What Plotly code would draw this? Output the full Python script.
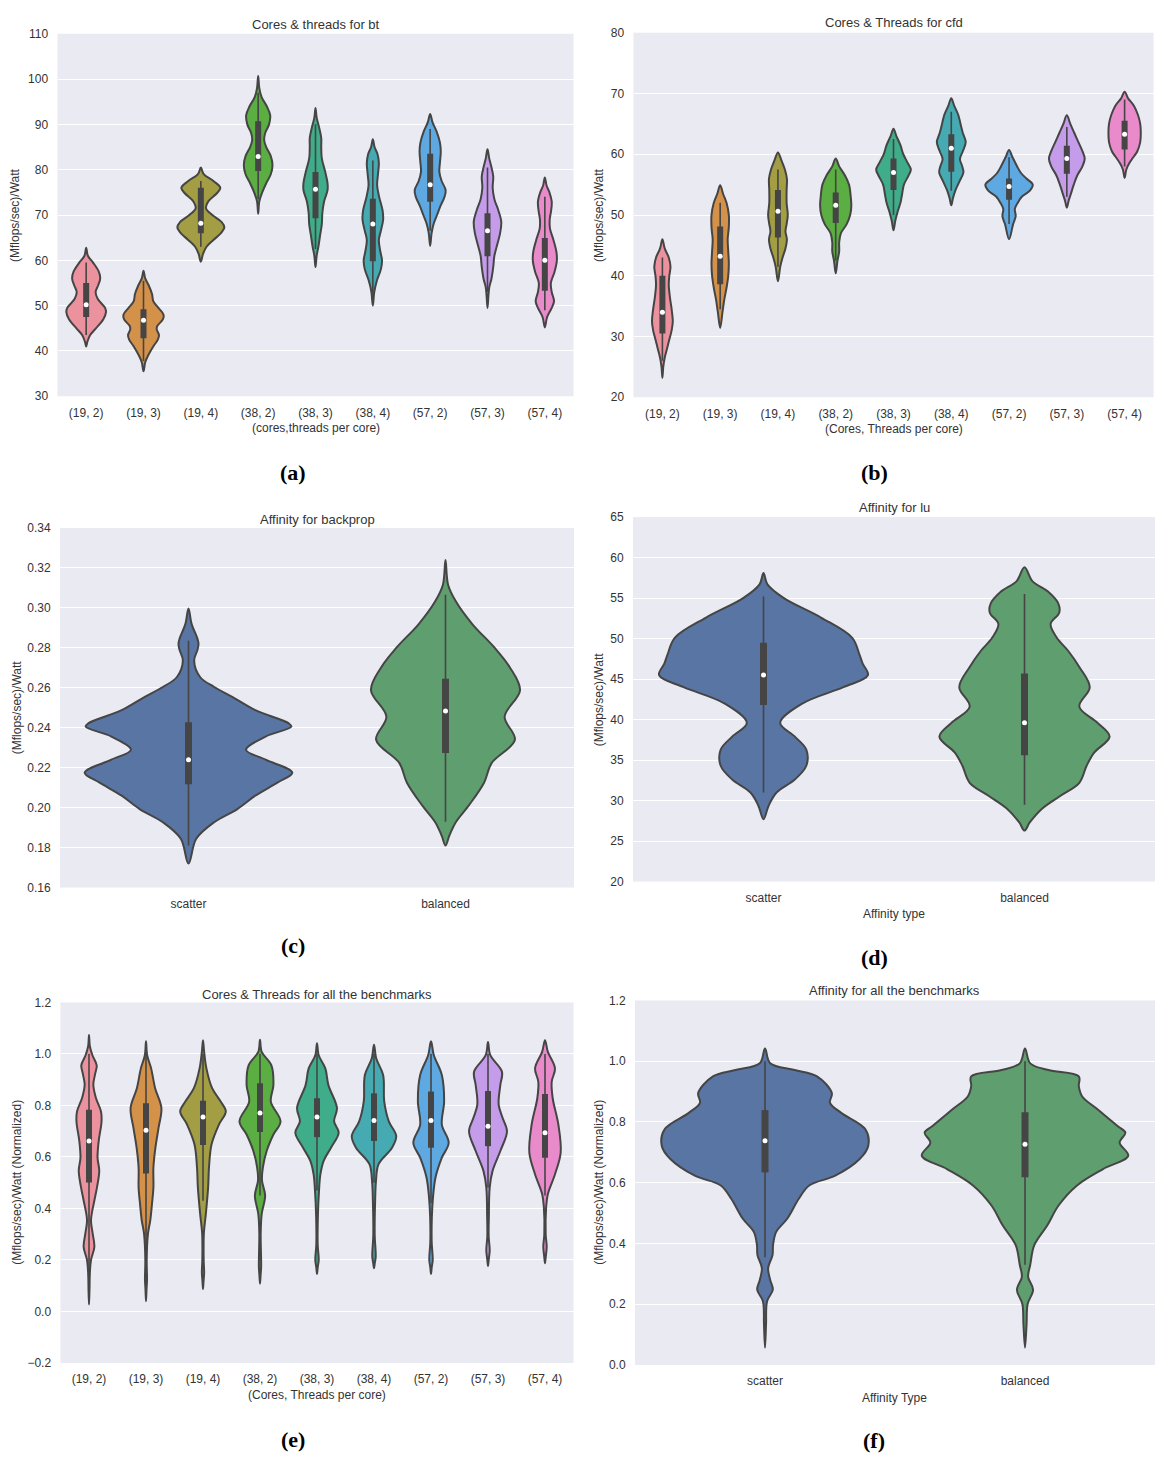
import plotly.graph_objects as go

W, H = 1161, 1472

# ---------------- data ----------------
core_categories = ["(19, 2)", "(19, 3)", "(19, 4)", "(38, 2)", "(38, 3)",
                   "(38, 4)", "(57, 2)", "(57, 3)", "(57, 4)"]
affinity_categories = ["scatter", "balanced"]

# (a) bt : density profiles (value, half-width in category units), box stats
bt_y = [
    [62.8, 61.0, 59.5, 57.5, 56.0, 54.5, 53.0, 51.5, 49.5, 48.5, 47.0, 45.0, 43.5, 42.0, 41.0],
    [57.7, 56.0, 54.5, 52.5, 51.0, 49.5, 48.0, 47.0, 45.5, 44.8, 43.5, 42.5, 41.0, 39.0, 37.5, 35.5],
    [80.5, 79.0, 77.5, 76.0, 74.8, 73.0, 71.5, 70.0, 68.5, 67.3, 66.0, 64.5, 63.0, 61.5, 59.7],
    [100.7, 98.0, 96.0, 94.0, 92.0, 90.0, 88.0, 86.5, 85.0, 83.0, 81.0, 79.0, 77.0, 75.0, 73.0, 70.3],
    [93.6, 91.5, 89.5, 87.0, 85.0, 82.5, 79.5, 77.0, 75.5, 73.0, 70.5, 68.0, 65.5, 63.0, 61.0, 58.5],
    [86.7, 85.0, 83.5, 81.5, 79.0, 76.5, 74.0, 71.0, 69.0, 66.5, 64.5, 62.0, 60.0, 58.0, 55.5, 53.0, 50.0],
    [92.3, 90.5, 88.5, 86.0, 84.0, 81.5, 79.5, 77.5, 75.5, 74.0, 72.0, 70.0, 68.0, 66.0, 63.2],
    [84.5, 82.5, 80.5, 78.5, 76.0, 73.5, 71.0, 68.5, 66.0, 63.5, 61.0, 58.5, 56.0, 54.0, 52.0, 49.5],
    [78.3, 76.5, 75.0, 73.0, 71.0, 69.0, 67.0, 64.5, 62.0, 60.0, 57.5, 55.0, 53.0, 51.0, 49.5, 47.5, 45.2],
]
bt_w = [
    [0, 0.03, 0.12, 0.22, 0.245, 0.21, 0.165, 0.2, 0.33, 0.345, 0.30, 0.17, 0.07, 0.02, 0],
    [0, 0.03, 0.09, 0.15, 0.17, 0.26, 0.35, 0.34, 0.24, 0.23, 0.27, 0.25, 0.17, 0.08, 0.03, 0],
    [0, 0.05, 0.22, 0.34, 0.28, 0.13, 0.09, 0.20, 0.36, 0.41, 0.35, 0.22, 0.10, 0.04, 0],
    [0, 0.02, 0.06, 0.15, 0.21, 0.19, 0.12, 0.105, 0.14, 0.22, 0.25, 0.22, 0.14, 0.07, 0.02, 0],
    [0, 0.02, 0.06, 0.10, 0.10, 0.11, 0.17, 0.21, 0.21, 0.15, 0.12, 0.11, 0.08, 0.05, 0.02, 0],
    [0, 0.03, 0.08, 0.105, 0.09, 0.075, 0.11, 0.17, 0.18, 0.14, 0.105, 0.13, 0.16, 0.14, 0.07, 0.025, 0],
    [0, 0.04, 0.11, 0.17, 0.185, 0.17, 0.16, 0.2, 0.27, 0.25, 0.18, 0.12, 0.06, 0.025, 0],
    [0, 0.03, 0.07, 0.10, 0.09, 0.12, 0.19, 0.24, 0.22, 0.17, 0.12, 0.10, 0.07, 0.03, 0.015, 0],
    [0, 0.03, 0.08, 0.12, 0.11, 0.085, 0.09, 0.15, 0.2, 0.21, 0.17, 0.105, 0.12, 0.16, 0.12, 0.04, 0],
]
bt_q1 = [47.5, 42.8, 66.0, 79.7, 69.3, 59.8, 72.9, 60.9, 53.3]
bt_med = [50.2, 46.8, 68.2, 82.9, 75.7, 68.0, 76.7, 66.5, 60.0]
bt_q3 = [55.0, 49.2, 76.0, 90.7, 79.5, 73.6, 83.5, 70.4, 64.9]
bt_lo = [43.5, 37.8, 63.0, 73.5, 62.5, 52.5, 66.5, 53.0, 49.0]
bt_hi = [59.5, 55.5, 77.5, 97.0, 90.0, 82.0, 89.0, 80.5, 74.0]

# (b) cfd
cfd_y = [
    [46.0, 44.5, 43.0, 41.5, 40.0, 38.5, 36.5, 34.5, 32.5, 31.0, 29.5, 28.0, 26.5, 25.0, 23.2],
    [54.9, 53.5, 52.0, 50.0, 48.0, 46.0, 44.0, 42.0, 40.0, 38.0, 36.0, 34.0, 31.4],
    [60.3, 59.0, 57.5, 56.0, 54.0, 52.0, 50.0, 48.5, 47.3, 46.0, 44.5, 43.0, 41.5, 39.1],
    [59.3, 58.0, 56.5, 55.0, 53.0, 51.5, 50.0, 48.5, 47.0, 45.5, 44.0, 42.5, 40.4],
    [64.2, 63.0, 61.5, 60.0, 58.5, 57.5, 56.5, 55.0, 53.5, 52.0, 50.5, 49.0, 47.5],
    [69.2, 68.0, 66.5, 65.0, 63.5, 62.0, 60.5, 59.2, 58.0, 57.0, 55.5, 54.0, 52.8, 51.6],
    [60.7, 59.5, 58.0, 57.0, 56.0, 55.0, 54.0, 53.0, 52.0, 51.0, 49.8, 48.5, 46.0],
    [66.4, 65.0, 63.5, 62.0, 60.5, 59.3, 58.0, 56.5, 55.0, 53.5, 52.3, 51.2],
    [70.3, 69.2, 68.0, 66.5, 65.0, 63.5, 62.0, 60.5, 59.5, 58.5, 57.5, 56.1],
]
cfd_w = [
    [0, 0.04, 0.11, 0.14, 0.12, 0.11, 0.13, 0.16, 0.18, 0.16, 0.12, 0.08, 0.04, 0.015, 0],
    [0, 0.05, 0.11, 0.15, 0.15, 0.13, 0.14, 0.15, 0.14, 0.11, 0.07, 0.04, 0],
    [0, 0.06, 0.12, 0.155, 0.15, 0.15, 0.17, 0.15, 0.13, 0.155, 0.13, 0.08, 0.04, 0],
    [0, 0.06, 0.16, 0.23, 0.26, 0.27, 0.25, 0.19, 0.09, 0.06, 0.06, 0.03, 0],
    [0, 0.05, 0.12, 0.17, 0.25, 0.3, 0.26, 0.18, 0.15, 0.12, 0.07, 0.03, 0],
    [0, 0.05, 0.12, 0.16, 0.2, 0.25, 0.2, 0.15, 0.19, 0.21, 0.14, 0.07, 0.03, 0],
    [0, 0.06, 0.14, 0.2, 0.3, 0.41, 0.36, 0.22, 0.15, 0.1, 0.115, 0.07, 0],
    [0, 0.06, 0.13, 0.2, 0.27, 0.31, 0.27, 0.18, 0.12, 0.07, 0.03, 0],
    [0, 0.06, 0.16, 0.23, 0.27, 0.28, 0.27, 0.22, 0.15, 0.08, 0.03, 0],
]
cfd_q1 = [30.5, 38.6, 46.3, 48.7, 54.1, 57.1, 52.5, 56.8, 60.8]
cfd_med = [34.0, 43.2, 50.6, 51.6, 57.0, 61.0, 54.7, 59.3, 63.3]
cfd_q3 = [40.0, 48.1, 54.1, 53.7, 59.3, 63.3, 56.0, 61.4, 65.5]
cfd_lo = [26.0, 34.5, 41.5, 42.5, 50.0, 54.0, 48.5, 53.0, 58.0]
cfd_hi = [43.0, 52.0, 57.5, 57.5, 62.5, 67.0, 59.5, 64.5, 69.0]

# (c) backprop
backprop_y = [
    [0.2997, 0.292, 0.2845, 0.2819, 0.279, 0.2736, 0.2654, 0.2604, 0.2555, 0.2488, 0.2422,
     0.2406, 0.2356, 0.229, 0.224, 0.2175, 0.2125, 0.206, 0.1993, 0.1927, 0.1844, 0.172],
    [0.324, 0.3116, 0.3033, 0.2918, 0.2802, 0.2703, 0.2588, 0.2455, 0.234, 0.2224, 0.2125,
     0.201, 0.1927, 0.186, 0.181],
]
backprop_w = [
    [0, 0.012, 0.035, 0.039, 0.035, 0.022, 0.045, 0.10, 0.17, 0.26, 0.39,
     0.40, 0.30, 0.224, 0.30, 0.404, 0.346, 0.26, 0.19, 0.10, 0.03, 0],
    [0, 0.01, 0.04, 0.105, 0.19, 0.25, 0.29, 0.23, 0.27, 0.18, 0.15,
     0.09, 0.04, 0.015, 0],
]
backprop_q1 = [0.2117, 0.2274]
backprop_med = [0.224, 0.2484]
backprop_q3 = [0.2427, 0.2645]
backprop_lo = [0.181, 0.193]
backprop_hi = [0.2835, 0.3066]

# (d) lu
lu_y = [
    [58.1, 56.7, 55.0, 52.6, 50.1, 48.1, 46.9, 45.5, 44.0, 42.0, 39.6, 37.9, 36.3, 34.3,
     32.6, 31.0, 29.4, 27.7],
    [58.8, 57.1, 55.8, 54.3, 53.2, 51.8, 50.1, 48.5, 46.5, 44.0, 41.6, 39.6, 37.9, 35.9,
     34.3, 32.2, 30.6, 29.0, 27.3, 26.3],
]
lu_w = [
    [0, 0.015, 0.078, 0.22, 0.34, 0.367, 0.38, 0.40, 0.306, 0.15, 0.064, 0.12, 0.164, 0.164,
     0.12, 0.05, 0.02, 0],
    [0, 0.03, 0.09, 0.13, 0.133, 0.10, 0.124, 0.167, 0.21, 0.25, 0.21, 0.28, 0.326, 0.266,
     0.238, 0.21, 0.138, 0.067, 0.02, 0],
]
lu_q1 = [41.8, 35.6]
lu_med = [45.5, 39.6]
lu_q3 = [49.5, 45.7]
lu_lo = [31.0, 29.5]
lu_hi = [55.2, 55.5]

# (e) all benchmarks, cores & threads (normalized)
all_y = [
    [1.074, 1.03, 0.995, 0.956, 0.92, 0.88, 0.83, 0.777, 0.738, 0.662, 0.597, 0.546, 0.482,
     0.431, 0.354, 0.303, 0.251, 0.2, 0.149, 0.08, 0.027],
    [1.049, 0.995, 0.944, 0.867, 0.79, 0.713, 0.636, 0.559, 0.482, 0.418, 0.354, 0.303,
     0.2, 0.123, 0.09, 0.04],
    [1.053, 1.008, 0.944, 0.867, 0.815, 0.777, 0.726, 0.649, 0.559, 0.482, 0.379, 0.303,
     0.2, 0.149, 0.12, 0.087],
    [1.055, 1.008, 0.956, 0.879, 0.815, 0.738, 0.687, 0.623, 0.559, 0.508, 0.45, 0.379,
     0.303, 0.174, 0.14, 0.108],
    [1.042, 0.995, 0.944, 0.879, 0.79, 0.738, 0.694, 0.636, 0.585, 0.533, 0.469, 0.367,
     0.26, 0.2, 0.17, 0.146],
    [1.036, 0.982, 0.918, 0.815, 0.738, 0.681, 0.636, 0.572, 0.508, 0.431, 0.3, 0.213,
     0.185, 0.168],
    [1.049, 0.995, 0.918, 0.815, 0.726, 0.655, 0.597, 0.521, 0.444, 0.367, 0.27, 0.2,
     0.17, 0.146],
    [1.046, 0.995, 0.931, 0.879, 0.803, 0.751, 0.7, 0.623, 0.546, 0.482, 0.367, 0.29,
     0.238, 0.2, 0.177],
    [1.053, 1.008, 0.944, 0.892, 0.828, 0.726, 0.617, 0.533, 0.456, 0.405, 0.3, 0.251,
     0.21, 0.187],
]
all_w = [
    [0, 0.015, 0.06, 0.135, 0.105, 0.076, 0.12, 0.21, 0.22, 0.17, 0.15, 0.18, 0.14,
     0.094, 0.035, 0.064, 0.094, 0.035, 0.015, 0.008, 0],
    [0, 0.02, 0.09, 0.16, 0.27, 0.22, 0.165, 0.13, 0.13, 0.105, 0.075, 0.035,
     0.012, 0.018, 0.01, 0],
    [0, 0.02, 0.06, 0.16, 0.31, 0.4, 0.28, 0.15, 0.105, 0.09, 0.05, 0.015,
     0.012, 0.02, 0.01, 0],
    [0, 0.03, 0.2, 0.235, 0.19, 0.36, 0.235, 0.117, 0.05, 0.035, 0.09, 0.03,
     0.012, 0.02, 0.01, 0],
    [0, 0.03, 0.146, 0.2, 0.35, 0.3, 0.38, 0.245, 0.117, 0.06, 0.035, 0.015,
     0.012, 0.03, 0.012, 0],
    [0, 0.04, 0.16, 0.18, 0.26, 0.39, 0.316, 0.08, 0.035, 0.02, 0.012, 0.03,
     0.012, 0],
    [0, 0.05, 0.19, 0.23, 0.19, 0.31, 0.19, 0.08, 0.035, 0.015, 0.012, 0.03,
     0.012, 0],
    [0, 0.04, 0.245, 0.216, 0.187, 0.257, 0.333, 0.216, 0.08, 0.03, 0.015, 0.012,
     0.03, 0.012, 0],
    [0, 0.05, 0.175, 0.117, 0.135, 0.234, 0.275, 0.175, 0.05, 0.02, 0.012, 0.03,
     0.012, 0],
]
all_q1 = [0.501, 0.536, 0.646, 0.697, 0.677, 0.662, 0.636, 0.642, 0.597]
all_med = [0.662, 0.704, 0.755, 0.771, 0.755, 0.742, 0.742, 0.719, 0.694]
all_q3 = [0.783, 0.809, 0.818, 0.886, 0.828, 0.847, 0.854, 0.856, 0.844]
all_lo = [0.08, 0.13, 0.43, 0.45, 0.47, 0.50, 0.42, 0.48, 0.45]
all_hi = [1.0, 1.0, 1.0, 1.0, 1.0, 1.0, 1.0, 1.0, 1.0]

# (f) all benchmarks, affinity (normalized)
affall_y = [
    [1.042, 0.993, 0.971, 0.95, 0.895, 0.863, 0.83, 0.776, 0.721, 0.678, 0.623, 0.591,
     0.547, 0.482, 0.438, 0.395, 0.362, 0.319, 0.28, 0.248, 0.21, 0.134, 0.057],
    [1.042, 0.993, 0.971, 0.95, 0.917, 0.884, 0.841, 0.786, 0.765, 0.732, 0.689, 0.645,
     0.591, 0.525, 0.46, 0.395, 0.329, 0.29, 0.248, 0.2, 0.134, 0.057],
]
affall_w = [
    [0, 0.02, 0.114, 0.2, 0.257, 0.25, 0.293, 0.386, 0.397, 0.364, 0.27, 0.17,
     0.13, 0.086, 0.043, 0.031, 0.029, 0.012, 0.02, 0.03, 0.008, 0.004, 0],
    [0, 0.02, 0.09, 0.207, 0.207, 0.22, 0.28, 0.357, 0.386, 0.364, 0.397, 0.3,
     0.2, 0.129, 0.086, 0.036, 0.02, 0.012, 0.031, 0.01, 0.006, 0],
]
affall_q1 = [0.634, 0.618]
affall_med = [0.738, 0.727]
affall_q3 = [0.839, 0.832]
affall_lo = [0.355, 0.33]
affall_hi = [1.0, 1.0]

# ---------------- styles ----------------
core_colors = ["#EC919E", "#D4914A", "#A39D43", "#5BAE41", "#3FAD8A",
               "#45AAB2", "#5FA9E2", "#C59CE9", "#E98ACA"]
affinity_colors = ["#5875A4", "#5F9E6E"]
EDGE = "#454545"
BG = "#EAEAF2"
TXT = "#333333"
FONT = "Liberation Sans, Arial, sans-serif"

fig = go.Figure()


def add_violins(ax, ys, ws, q1, med, q3, lo, hi, colors, box_w=6):
    xref = "x" + ("" if ax == 1 else str(ax))
    yref = "y" + ("" if ax == 1 else str(ax))
    for i in range(len(ys)):
        y, w = ys[i], ws[i]
        xs = [i + v for v in w] + [i - v for v in reversed(w[:-1])]
        yy = list(y) + list(reversed(y[:-1]))
        fig.add_trace(go.Scatter(
            x=xs, y=yy, xaxis=xref, yaxis=yref, mode="lines", fill="toself",
            fillcolor=colors[i],
            line=dict(color=EDGE, width=2, shape="spline", smoothing=1.0),
            hoverinfo="skip"))
        fig.add_trace(go.Scatter(
            x=[i, i], y=[lo[i], hi[i]], xaxis=xref, yaxis=yref, mode="lines",
            line=dict(color=EDGE, width=1.6), hoverinfo="skip"))
        fig.add_trace(go.Scatter(
            x=[i, i], y=[q1[i], q3[i]], xaxis=xref, yaxis=yref, mode="lines",
            line=dict(color=EDGE, width=box_w), hoverinfo="skip"))
        fig.add_trace(go.Scatter(
            x=[i], y=[med[i]], xaxis=xref, yaxis=yref, mode="markers",
            marker=dict(color="white", size=5, line=dict(width=0)),
            hoverinfo="skip"))


add_violins(1, bt_y, bt_w, bt_q1, bt_med, bt_q3, bt_lo, bt_hi, core_colors)
add_violins(2, cfd_y, cfd_w, cfd_q1, cfd_med, cfd_q3, cfd_lo, cfd_hi, core_colors)
add_violins(3, backprop_y, backprop_w, backprop_q1, backprop_med, backprop_q3,
            backprop_lo, backprop_hi, affinity_colors, box_w=7)
add_violins(4, lu_y, lu_w, lu_q1, lu_med, lu_q3, lu_lo, lu_hi, affinity_colors, box_w=7)
add_violins(5, all_y, all_w, all_q1, all_med, all_q3, all_lo, all_hi, core_colors)
add_violins(6, affall_y, affall_w, affall_q1, affall_med, affall_q3, affall_lo,
            affall_hi, affinity_colors, box_w=7)

# panel geometry in pixels: (x0, x1, y0_top, y1_bottom)
panels = [
    dict(px=(57.5, 573.5), py=(27, 393), yr=(30, 110), dt=10, fmt="d", cats=core_categories),
    dict(px=(633.5, 1153.5), py=(26, 394), yr=(20, 80), dt=10, fmt="d", cats=core_categories),
    dict(px=(60, 574), py=(526, 889), yr=(0.16, 0.34), dt=0.02, fmt=".2f", cats=affinity_categories),
    dict(px=(633, 1155), py=(515, 883), yr=(20, 65), dt=5, fmt="d", cats=affinity_categories),
    dict(px=(60.5, 573.5), py=(1005, 1369), yr=(-0.2, 1.2), dt=0.2, fmt=".1f", cats=core_categories),
    dict(px=(635, 1155), py=(1003, 1371), yr=(0.0, 1.2), dt=0.2, fmt=".1f", cats=affinity_categories),
]

layout_axes = {}
for k, p in enumerate(panels, start=1):
    sfx = "" if k == 1 else str(k)
    n = len(p["cats"])
    layout_axes["xaxis" + sfx] = dict(
        domain=[p["px"][0] / W, p["px"][1] / W], anchor="y" + sfx,
        range=[-0.5, n - 0.5], tickmode="array", tickvals=list(range(n)),
        ticktext=p["cats"], showgrid=False, zeroline=False, showline=False,
        ticks="outside", ticklen=5, tickcolor="rgba(0,0,0,0)",
        tickfont=dict(family=FONT, size=12, color=TXT), fixedrange=True)
    layout_axes["yaxis" + sfx] = dict(
        domain=[1 - p["py"][1] / H, 1 - p["py"][0] / H], anchor="x" + sfx,
        range=list(p["yr"]), dtick=p["dt"], tick0=0, tickformat=p["fmt"],
        showgrid=True, gridcolor="white", gridwidth=1.3, zeroline=False,
        showline=False, ticks="outside", ticklen=6, tickcolor="rgba(0,0,0,0)",
        tickfont=dict(family=FONT, size=12, color=TXT), fixedrange=True)

fig.update_layout(**layout_axes)


def ann(text, x, y, size=13, angle=0, bold=False, family=FONT, color=TXT):
    return dict(text=("<b>%s</b>" % text) if bold else text, x=x / W, y=1 - y / H,
                xref="paper", yref="paper", showarrow=False, textangle=angle,
                xanchor="center", yanchor="middle",
                font=dict(family=family, size=size, color=color))


SERIF = "Liberation Serif, Times New Roman, serif"
annotations = [
    ann("Cores &amp; threads for bt", 315.5, 18),
    ann("Cores &amp; Threads for cfd", 893.5, 16),
    ann("Affinity for backprop", 317, 517),
    ann("Affinity for lu", 894, 505),
    ann("Cores &amp; Threads for all the benchmarks", 317, 997),
    ann("Affinity for all the benchmarks", 895, 993),
    ann("(cores,threads per core)", 315.5, 425, size=12),
    ann("(Cores, Threads per core)", 893.5, 426, size=12),
    ann("Affinity type", 894, 916, size=12),
    ann("(Cores, Threads per core)", 317, 1401, size=12),
    ann("Affinity Type", 895, 1404, size=12),
    ann("(Mflops/sec)/Watt", 15, 210, size=12, angle=-90),
    ann("(Mflops/sec)/Watt", 599, 210, size=12, angle=-90),
    ann("(Mflops/sec)/Watt", 17, 707, size=12, angle=-90),
    ann("(Mflops/sec)/Watt", 599, 699, size=12, angle=-90),
    ann("(Mflops/sec)/Watt (Normalized)", 17, 1187, size=12, angle=-90),
    ann("(Mflops/sec)/Watt (Normalized)", 599, 1187, size=12, angle=-90),
    ann("(a)", 293, 470, size=22, bold=True, family=SERIF, color="black"),
    ann("(b)", 874, 470, size=22, bold=True, family=SERIF, color="black"),
    ann("(c)", 293, 948, size=22, bold=True, family=SERIF, color="black"),
    ann("(d)", 874, 960, size=22, bold=True, family=SERIF, color="black"),
    ann("(e)", 293, 1446, size=22, bold=True, family=SERIF, color="black"),
    ann("(f)", 874, 1447, size=22, bold=True, family=SERIF, color="black"),
]

fig.update_layout(
    width=W, height=H, margin=dict(l=0, r=0, t=0, b=0),
    paper_bgcolor="white", plot_bgcolor=BG, showlegend=False,
    annotations=annotations, font=dict(family=FONT, color=TXT),
)

fig.write_html("out.html")
